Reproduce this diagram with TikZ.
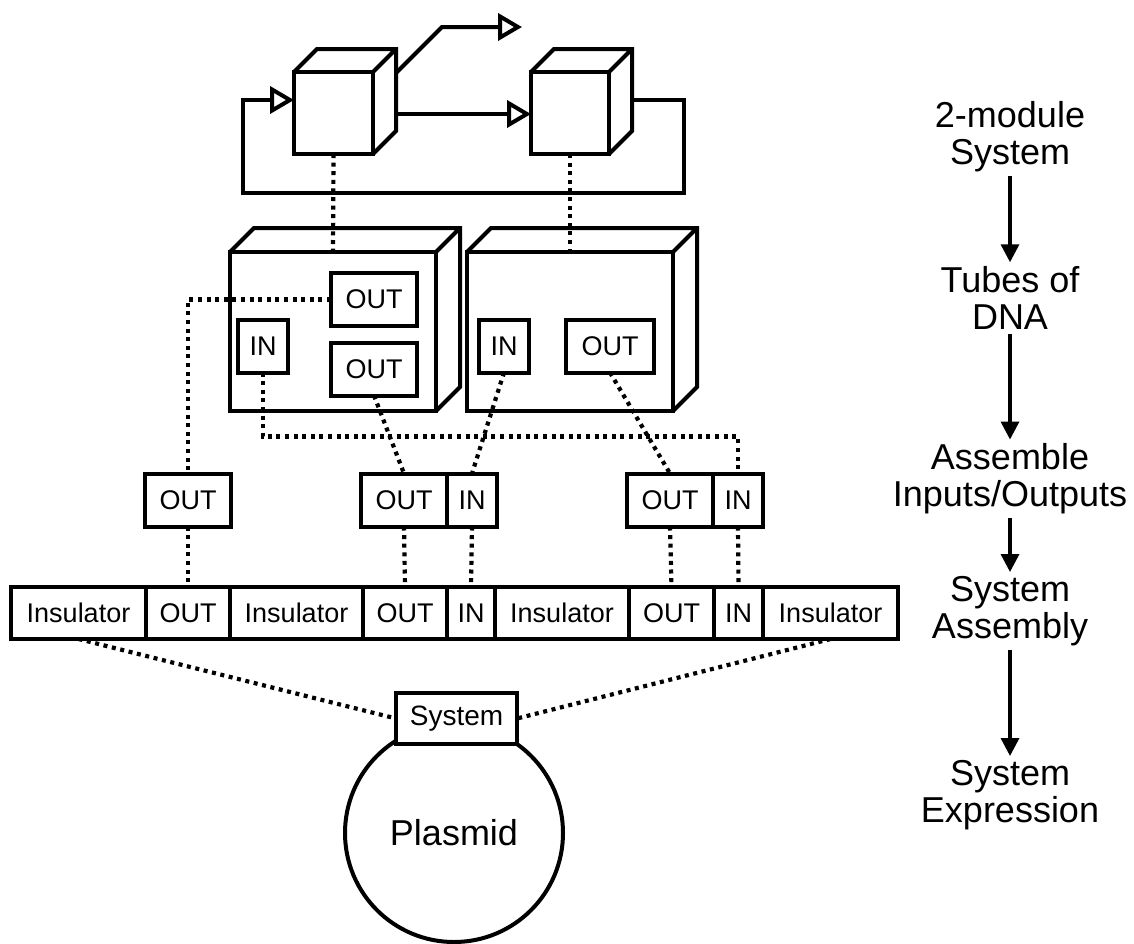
\documentclass[tikz,border=0pt]{standalone}
\usepackage{fontspec}
\setmainfont{Liberation Sans}
\usetikzlibrary{positioning,arrows.meta,calc}

\tikzset{
  thickline/.style={line width=4pt},
  dots/.style={line width=4.2pt, dash pattern=on 4pt off 4.6pt},
  cube/.style={draw, thickline, fill=white, inner sep=0pt, outer sep=0pt},
  part/.style={draw, thickline, fill=white, inner sep=0pt, outer sep=0pt, minimum height=53pt, font=\fontsize{27}{27}\selectfont},
  outpart/.style={part, minimum width=86pt},
  inpart/.style={part, minimum width=50pt},
  cell/.style={part, minimum height=52pt, right=0pt of #1},
  stage/.style={align=center, font=\fontsize{36}{37}\selectfont, inner sep=4pt},
  opentip/.style={-{Triangle[open, length=24pt, width=27pt]}},
  stagearrow/.style={line width=3.5pt, -{Triangle[length=18pt, width=18pt]}}
}

\begin{document}
\begin{tikzpicture}[x=1pt,y=-1pt]
\useasboundingbox (0,0) rectangle (1134,943);

% 2-module system
\node[cube, minimum width=79pt, minimum height=82pt] (c1) at (333.5,113) {};
\node[cube, minimum width=78pt, minimum height=82pt] (c2) at (570,113) {};

% tubes of DNA
\node[cube, minimum width=206pt, minimum height=159pt] (m1) at (333,331.5) {};
\node[cube, minimum width=206pt, minimum height=159pt] (m2) at (570,331.5) {};

% top and side faces
\foreach \n/\d in {c1/23, c2/23, m1/24, m2/24}
  \draw[thickline] (\n.north west) -- ++(\d,-\d) -| ($(\n.south east)+(\d,-\d)$) -- (\n.south east)
    (\n.north east) -- ++(\d,-\d);

\coordinate (signal) at (522,27);
\coordinate (loopcorner) at (243,193);
\draw[thickline, opentip] ($(c1.east)+(23,-40)$) -- ++(46,-46) -- (signal);
\draw[thickline, opentip] ($(c1.east)+(23,1)$) -- ($(c2.west)+(0,1)$);
\draw[thickline, opentip] ($(c2.east)+(23,-13)$) -- ++(52,0) |- (loopcorner) |- ($(c1.west)+(0,-13)$);

\node[outpart] (oa) at (374,299.5) {OUT};
\node[outpart] (ob) at (374,369) {OUT};
\node[inpart] (i1) at (263,346) {IN};
\node[inpart] (i2) at (504,346) {IN};
\node[outpart, minimum width=88pt] (o2) at (610,346) {OUT};

% assembled inputs/outputs
\node[outpart] (q1) at (188,500) {OUT};
\node[outpart] (q2) at (404,500) {OUT};
\node[inpart, right=0pt of q2] (q3) {IN};
\node[outpart] (q4) at (670,500) {OUT};
\node[inpart, right=0pt of q4] (q5) {IN};

% system assembly
\node[part, minimum height=52pt, minimum width=135pt] (b1) at (78.5,613) {Insulator};
\node[cell=b1, minimum width=84pt] (b2) {OUT};
\node[cell=b2, minimum width=133pt] (b3) {Insulator};
\node[cell=b3, minimum width=84pt] (b4) {OUT};
\node[cell=b4, minimum width=48pt] (b5) {IN};
\node[cell=b5, minimum width=134pt] (b6) {Insulator};
\node[cell=b6, minimum width=85pt] (b7) {OUT};
\node[cell=b7, minimum width=49pt] (b8) {IN};
\node[cell=b8, minimum width=135pt] (b9) {Insulator};

% plasmid
\node[draw, thickline, circle, minimum size=218pt, inner sep=0pt, font=\fontsize{36}{36}\selectfont] (plasmid) at (454,833) {Plasmid};
\node[part, minimum width=121pt, minimum height=51pt, font=\fontsize{28}{28}\selectfont] (sys) at (456.5,718.5) {System};

% dotted links
\draw[dots] (c1.south) -- (m1.north);
\draw[dots] (c2.south) -- (m2.north);
\draw[dots] (oa.west) -| (q1.north);
\draw[dots] (i1.south) -- ++(0,64) -| (q5.north);
\draw[dots] (ob.south) -- (q2.north);
\draw[dots] (i2.south) -- (q3.north);
\draw[dots] (o2.south) -- (q4.north);
\draw[dots] (q1.south) -- (b2.north);
\draw[dots] (q2.south) -- (b4.north);
\draw[dots] (q3.south) -- (b5.north);
\draw[dots] (q4.south) -- (b7.north);
\draw[dots] (q5.south) -- (b8.north);
\draw[dots] (b1.south) -- (sys.west);
\draw[dots] (b9.south) -- (sys.east);

% stages
\node[stage] (s1) at (1010,137) {2-module\\System};
\node[stage] (s2) at (1010,298) {Tubes of\\DNA};
\node[stage] (s3) at (1010,479) {Assemble\\Inputs/Outputs};
\node[stage] (s4) at (1010,611) {System\\Assembly};
\node[stage] (s5) at (1010,795) {System\\Expression};
\draw[stagearrow] (s1) -- (s2);
\draw[stagearrow] (s2) -- (s3);
\draw[stagearrow] (s3) -- (s4);
\draw[stagearrow] (s4) -- (s5);
\end{tikzpicture}
\end{document}
